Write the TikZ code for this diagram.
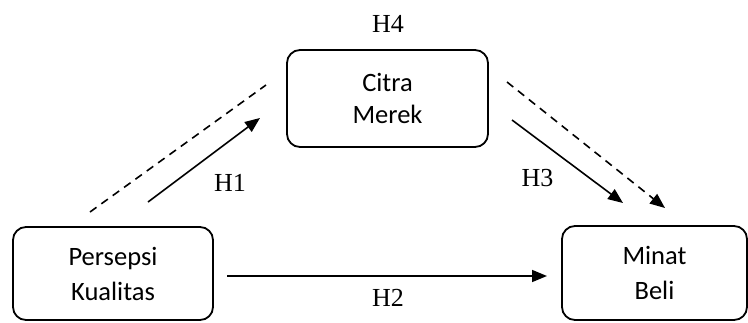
\documentclass[tikz,border=0pt]{standalone}
\usepackage{fontspec}
\setmainfont{Liberation Serif}
\newfontfamily\boxfont{Carlito}
\usetikzlibrary{arrows.meta}
\begin{document}
\begin{tikzpicture}[x=1pt,y=-1pt,
  box/.style={draw, line width=1.8pt, rounded corners=13pt, inner sep=0pt, align=center,
    font=\boxfont\fontsize{26.5}{35}\selectfont},
  hyp/.style={font=\fontsize{26}{30}\selectfont, inner sep=0pt},
  arr/.style={line width=1.6pt, -{Triangle[length=15pt,width=12pt]}},
  dashline/.style={line width=1.6pt, dash pattern=on 8pt off 6pt},
  dasharr/.style={dashline, -{Triangle[length=15pt,width=12pt]}}
]
\useasboundingbox (0,0) rectangle (748,322);

\node[box, minimum width=200pt, minimum height=93pt] (pk) at (113,273.5) {Persepsi\\Kualitas};
\node[box, minimum width=185pt, minimum height=94pt] (mb) at (654.5,273) {Minat\\Beli};
\node[box, minimum width=201pt, minimum height=97pt, font=\boxfont\fontsize{26.5}{32}\selectfont] (cm) at (387.5,98.5) {Citra\\Merek};

\node[hyp] (h4) at (388,24) {H4};
\node[hyp] (h1) at (230,183) {H1};
\node[hyp] (h3) at (537.5,178) {H3};
\node[hyp] (h2) at (388,298) {H2};

\coordinate (a1s) at (148,202);
\coordinate (a1e) at (260,118);
\coordinate (d1s) at (90,212);
\coordinate (d1e) at (266,85);
\coordinate (a3s) at (512,120);
\coordinate (a3e) at (623,203);
\coordinate (d3s) at (507,82);
\coordinate (d3e) at (665,208);
\coordinate (a2s) at (227,276);
\coordinate (a2e) at (547,276);

\draw[arr] (a1s) -- (a1e);
\draw[dashline] (d1s) -- (d1e);
\draw[arr] (a3s) -- (a3e);
\draw[dasharr] (d3s) -- (d3e);
\draw[arr] (a2s) -- (a2e);
\end{tikzpicture}
\end{document}
